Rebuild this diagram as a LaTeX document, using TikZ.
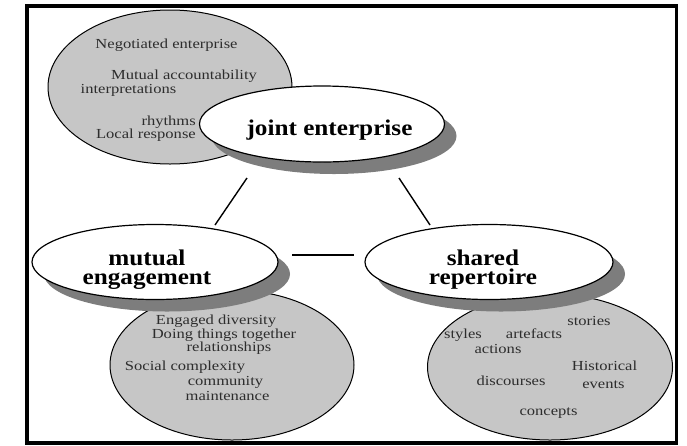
\documentclass[tikz,border=0pt]{standalone}
\usepackage{fontspec}
\setmainfont{Liberation Serif}
\newfontfamily\itemfont[FakeStretch=1.2]{Liberation Serif}
\newfontfamily\titlefont[FakeStretch=1.12]{Liberation Serif}
\usetikzlibrary{shapes.geometric,shadows}
\definecolor{lgray}{RGB}{198,198,198}
\definecolor{sgray}{RGB}{125,125,125}
\definecolor{tgray}{RGB}{45,45,45}
\begin{document}
\begin{tikzpicture}[x=1pt,y=-1pt,
  grayell/.style={ellipse,draw=black,line width=1pt,fill=lgray,inner sep=0pt},
  whiteell/.style={ellipse,draw=black,line width=1.2pt,fill=white,inner sep=0pt,
    drop shadow={shadow xshift=12pt,shadow yshift=-12pt,fill=sgray,opacity=1}},
  item/.style={font=\itemfont\fontsize{13.8}{13.8}\selectfont,text=tgray,inner sep=0pt},
  title/.style={font=\titlefont\fontsize{22.5}{19}\selectfont\bfseries,inner sep=0pt,align=center},
  link/.style={line width=1.4pt}]
\useasboundingbox (0,0) rectangle (687,445);
% frame
\draw[line width=3.5pt] (27,6) rectangle (676.5,443);
% top-left gray ellipse
\node[grayell,minimum width=244pt,minimum height=154pt] (jecloud) at (170,87) {};
\node[item,anchor=base] (t1) at (166.5,48) {Negotiated enterprise};
\node[item,anchor=base] (t2) at (184,79) {Mutual accountability};
\node[item,anchor=base] (t3) at (128.5,93) {interpretations};
\node[item,anchor=base east] (t4) at (196,125) {rhythms};
\node[item,anchor=base east] (t5) at (196,138) {Local response};
\node[whiteell,minimum width=245pt,minimum height=76pt] (je) at (322,124) {};
\node[title,anchor=base] (jet) at (329.5,135) {joint enterprise};
% bottom gray ellipses
\node[grayell,minimum width=244pt,minimum height=150pt] (mecloud) at (232,365) {};
\node[grayell,minimum width=245pt,minimum height=146pt] (srcloud) at (550,367) {};
\node[item,anchor=base] (m1) at (216,324) {Engaged diversity};
\node[item,anchor=base] (m2) at (224,338) {Doing things together};
\node[item,anchor=base] (m3) at (229,351) {relationships};
\node[item,anchor=base] (m4) at (185,370) {Social complexity};
\node[item,anchor=base] (m5) at (225.5,385) {community};
\node[item,anchor=base] (m6) at (227.5,400) {maintenance};
\node[item,anchor=base] (s1) at (589,325) {stories};
\node[item,anchor=base] (s2) at (463,338) {styles};
\node[item,anchor=base] (s3) at (534,338) {artefacts};
\node[item,anchor=base] (s4) at (498,353) {actions};
\node[item,anchor=base] (s5) at (604.5,370) {Historical};
\node[item,anchor=base] (s6) at (511,385) {discourses};
\node[item,anchor=base] (s7) at (603.5,388) {events};
\node[item,anchor=base] (s8) at (548.5,415) {concepts};
% white title ellipses
\node[whiteell,minimum width=246pt,minimum height=75pt] (me) at (155,262) {};
\node[title] (met) at (147,269.5) {mutual\\engagement};
\node[whiteell,minimum width=248pt,minimum height=75pt] (sr) at (489,262) {};
\node[title] (srt) at (483,269.5) {shared\\repertoire};
% connectors
\coordinate (a1) at (247,178);
\coordinate (a2) at (215,225);
\coordinate (b1) at (399,178);
\coordinate (b2) at (430,225);
\coordinate (c1) at (292,255);
\coordinate (c2) at (354,255);
\draw[link] (a1) -- (a2);
\draw[link] (b1) -- (b2);
\draw[link] (c1) -- (c2);
\end{tikzpicture}
\end{document}
